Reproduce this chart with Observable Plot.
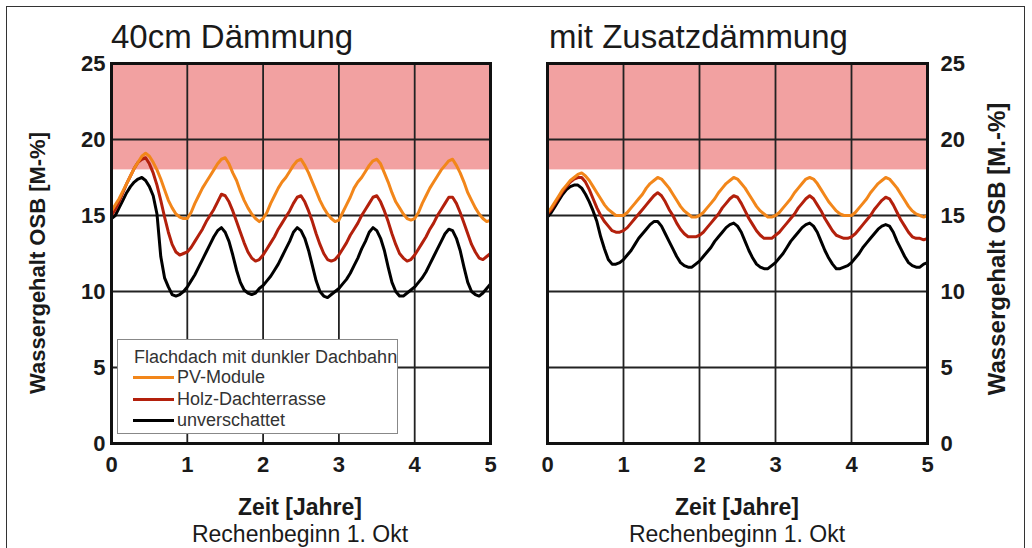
<!DOCTYPE html>
<html><head><meta charset="utf-8">
<script src="https://cdn.jsdelivr.net/npm/d3@7"></script>
<script src="https://cdn.jsdelivr.net/npm/@observablehq/plot@0.6"></script>
<style>
body{margin:0;background:#fff;font-family:"Liberation Sans",Arial,sans-serif;}
#page{position:relative;width:1032px;height:548px;overflow:hidden;background:#fff;}
#border{position:absolute;left:6px;top:6px;width:1019px;height:560px;border:1.5px solid #333;box-sizing:border-box;}
.abs{position:absolute;line-height:1;white-space:nowrap;color:#1a1a1a;}
.panel{position:absolute;}
.ttl{font-size:33px;}
.xt{font-size:23px;font-weight:bold;transform:translateX(-50%);}
.xs{font-size:23px;transform:translateX(-50%);}
.yt{font-size:22px;font-weight:bold;transform:translate(-50%,-50%) rotate(-90deg);}
.yt2{font-size:24px;font-weight:bold;transform:translate(-50%,-50%) rotate(-90deg);}
#legend{position:absolute;left:117px;top:339px;width:281px;height:95px;border:1.5px solid #888;background:#fff;box-sizing:border-box;}
.lg{position:absolute;font-size:18px;line-height:1;color:#333;white-space:nowrap;}
.sw{position:absolute;height:3px;width:41px;}
</style></head><body>
<div id="page"><div id="border"></div></div>
<script>
// ---- data ----
const panelTitles = ["40cm Dämmung", "mit Zusatzdämmung"];
const yTitles = ["Wassergehalt OSB [M-%]", "Wassergehalt OSB [M.-%]"];
const xTitle = "Zeit [Jahre]";
const xSubtitle = "Rechenbeginn 1. Okt";
const legendTitle = "Flachdach mit dunkler Dachbahn";
const seriesNames = ["PV-Module", "Holz-Dachterrasse", "unverschattet"];
const seriesColors = ["#f2861a", "#b3200c", "#000000"];
const xTicks = [0, 1, 2, 3, 4, 5];
const yTicks = [0, 5, 10, 15, 20, 25];
const criticalBand = [{from: 18, to: 25}];
const step = 0.05; // years between samples

// Left panel: 40cm Dämmung
const leftPV = [
15.3,15.7,16.1,16.6,17.1,17.6,18.1,18.5,18.9,19.1,18.9,18.5,18.0,17.4,16.7,16.0,15.5,15.1,14.9,14.8,
14.8,15.2,15.8,16.3,16.8,17.2,17.6,18.0,18.4,18.7,18.8,18.4,17.8,17.3,16.6,16.0,15.5,15.1,14.8,14.6,
14.8,15.2,15.8,16.3,16.8,17.2,17.5,17.9,18.3,18.6,18.7,18.3,17.8,17.2,16.6,16.0,15.5,15.1,14.8,14.6,
14.7,15.2,15.7,16.2,16.8,17.2,17.5,17.9,18.3,18.6,18.7,18.4,17.8,17.2,16.5,15.9,15.5,15.1,14.8,14.7,
14.8,15.2,15.8,16.3,16.8,17.2,17.6,18.0,18.3,18.6,18.7,18.3,17.8,17.2,16.5,16.0,15.5,15.1,14.8,14.6,
14.7];
const leftHolz = [
15.0,15.4,15.9,16.5,17.1,17.6,18.1,18.5,18.7,18.8,18.4,17.8,17.0,16.0,14.9,13.9,13.1,12.6,12.4,12.5,
12.6,12.9,13.3,13.7,14.1,14.6,15.0,15.4,15.9,16.4,16.3,15.9,15.3,14.6,13.9,13.2,12.6,12.2,12.0,12.1,
12.4,12.8,13.2,13.6,14.1,14.5,14.9,15.3,15.8,16.2,16.3,15.9,15.3,14.6,13.8,13.1,12.5,12.1,12.0,12.1,
12.4,12.8,13.2,13.7,14.1,14.5,15.0,15.4,15.8,16.2,16.3,15.9,15.3,14.6,13.8,13.1,12.5,12.2,12.0,12.1,
12.4,12.8,13.2,13.6,14.1,14.5,15.0,15.4,15.8,16.2,16.2,15.8,15.2,14.5,13.8,13.1,12.6,12.2,12.1,12.3,
12.5];
const leftOpen = [
14.8,15.0,15.5,16.0,16.5,16.9,17.2,17.4,17.5,17.3,16.9,16.3,15.1,12.3,10.9,10.3,9.8,9.7,9.8,10.0,
10.3,10.7,11.1,11.6,12.1,12.6,13.1,13.6,14.0,14.2,13.9,13.3,12.4,11.4,10.6,10.1,9.9,9.8,9.9,10.2,
10.4,10.7,11.0,11.4,11.8,12.3,12.8,13.3,13.9,14.2,14.0,13.5,12.7,11.7,10.7,10.0,9.7,9.6,9.8,10.0,
10.2,10.5,10.8,11.2,11.7,12.2,12.8,13.3,13.9,14.2,14.0,13.5,12.7,11.6,10.6,10.0,9.7,9.7,9.9,10.1,
10.3,10.6,10.9,11.3,11.8,12.3,12.8,13.3,13.8,14.1,14.0,13.5,12.7,11.6,10.6,10.0,9.8,9.7,9.9,10.2,
10.5];

// Right panel: mit Zusatzdämmung
const rightPV = [
15.2,15.5,15.9,16.3,16.7,17.0,17.3,17.5,17.7,17.8,17.6,17.3,16.9,16.5,16.1,15.7,15.4,15.2,15.0,15.0,
15.0,15.2,15.5,15.8,16.1,16.4,16.8,17.1,17.3,17.5,17.4,17.1,16.8,16.4,16.0,15.6,15.3,15.1,14.9,14.9,
15.0,15.2,15.5,15.8,16.1,16.5,16.8,17.1,17.3,17.5,17.4,17.1,16.8,16.4,16.0,15.6,15.3,15.1,14.9,14.9,
15.0,15.2,15.5,15.8,16.1,16.5,16.8,17.1,17.4,17.5,17.4,17.1,16.7,16.3,15.9,15.6,15.3,15.1,15.0,15.0,
15.0,15.2,15.5,15.8,16.1,16.5,16.8,17.1,17.3,17.5,17.4,17.1,16.8,16.4,16.0,15.6,15.3,15.1,15.0,14.9,
15.0];
const rightHolz = [
15.1,15.4,15.8,16.2,16.6,16.9,17.2,17.4,17.5,17.5,17.2,16.7,16.1,15.5,15.0,14.6,14.3,14.0,13.9,13.9,
14.0,14.2,14.5,14.8,15.1,15.4,15.7,16.0,16.3,16.5,16.3,15.9,15.4,15.0,14.5,14.1,13.8,13.6,13.6,13.6,
13.7,13.9,14.2,14.5,14.8,15.1,15.5,15.8,16.1,16.3,16.2,15.8,15.3,14.8,14.4,14.0,13.7,13.5,13.5,13.5,
13.7,13.9,14.2,14.5,14.8,15.1,15.5,15.8,16.1,16.3,16.1,15.7,15.3,14.8,14.4,14.0,13.7,13.6,13.5,13.5,
13.6,13.8,14.1,14.4,14.7,15.0,15.4,15.7,16.0,16.2,16.1,15.7,15.2,14.7,14.3,13.9,13.6,13.5,13.5,13.4,
13.5];
const rightOpen = [
14.9,15.2,15.6,16.0,16.4,16.7,16.9,17.0,17.0,16.8,16.4,15.9,15.3,14.6,13.6,12.8,12.1,11.8,11.8,11.9,
12.1,12.4,12.7,13.1,13.5,13.8,14.1,14.4,14.6,14.6,14.3,13.8,13.3,12.8,12.3,11.9,11.7,11.6,11.6,11.8,
12.0,12.3,12.6,12.9,13.3,13.6,13.9,14.2,14.4,14.5,14.3,13.9,13.3,12.7,12.2,11.8,11.6,11.5,11.5,11.7,
11.9,12.2,12.5,12.9,13.3,13.6,13.9,14.2,14.4,14.5,14.3,13.9,13.3,12.7,12.2,11.8,11.5,11.5,11.6,11.7,
11.9,12.2,12.5,12.9,13.2,13.5,13.8,14.1,14.3,14.4,14.3,13.9,13.3,12.8,12.3,11.9,11.7,11.6,11.6,11.8,
11.9];

// ---- drawing ----
const page = document.getElementById("page");
const FONT = '"Liberation Sans", Arial, sans-serif';

function addText(cls, text, left, top) {
  const d = document.createElement("div");
  d.className = "abs " + cls;
  d.textContent = text;
  d.style.left = left + "px";
  d.style.top = top + "px";
  page.appendChild(d);
  return d;
}

function rows(values, name) {
  return values.map((v, i) => ({t: +(i * step).toFixed(2), v, s: name}));
}

function panel(series, side, left, marginLeft, marginRight) {
  const data = [
    ...rows(series[2], seriesNames[2]),
    ...rows(series[1], seriesNames[1]),
    ...rows(series[0], seriesNames[0])
  ];
  const chart = Plot.plot({
    width: 516, height: 440,
    marginLeft, marginRight, marginTop: 23, marginBottom: 37,
    style: {fontFamily: FONT, fontSize: "22px", fontWeight: "bold", color: "#1a1a1a", background: "transparent", overflow: "visible"},
    x: {domain: [0, 5], label: null},
    y: {domain: [0, 25], label: null},
    color: {domain: seriesNames, range: seriesColors},
    marks: [
      Plot.rect(criticalBand, {x1: () => xTicks[0], x2: () => xTicks[xTicks.length - 1], y1: "from", y2: "to", fill: "#f2a1a1"}),
      Plot.gridX(xTicks, {stroke: "#222", strokeOpacity: 1, strokeWidth: 1.8}),
      Plot.gridY(yTicks, {stroke: "#222", strokeOpacity: 1, strokeWidth: 1.8}),
      Plot.line(data, {x: "t", y: "v", z: "s", stroke: "s", strokeWidth: 3, strokeLinejoin: "round"}),
      Plot.frame({stroke: "#111", strokeWidth: 3}),
      Plot.axisX(xTicks, {tickSize: 0, tickPadding: 13, tickFormat: d => d, label: null}),
      Plot.axisY(yTicks, {anchor: side, tickSize: 0, tickPadding: side === "left" ? 6 : 13, tickFormat: d => d, label: null})
    ]
  });
  const wrap = document.createElement("div");
  wrap.className = "panel";
  wrap.style.left = left + "px";
  wrap.style.top = "40px";
  wrap.appendChild(chart);
  page.appendChild(wrap);
}

panel([leftPV, leftHolz, leftOpen], "left", 0, 111, 26);
panel([rightPV, rightHolz, rightOpen], "right", 516, 31, 105);

// titles
addText("ttl", panelTitles[0], 111, 20);
addText("ttl", panelTitles[1], 549, 20);
// x titles
addText("xt", xTitle, 300, 496);
addText("xt", xTitle, 737, 496);
addText("xs", xSubtitle, 300, 523);
addText("xs", xSubtitle, 737, 523);
// y titles
addText("yt", yTitles[0], 38, 263);
addText("yt2", yTitles[1], 997, 249);

// legend
const lg = document.createElement("div");
lg.id = "legend";
page.appendChild(lg);
function lgText(text, x, y) {
  const d = document.createElement("div");
  d.className = "lg"; d.textContent = text;
  d.style.left = (x - 117) + "px"; d.style.top = (y - 339) + "px";
  lg.appendChild(d);
}
lgText(legendTitle, 133, 347);
const entryY = [376, 398, 419];
seriesNames.forEach((n, i) => {
  const sw = document.createElement("div");
  sw.className = "sw";
  sw.style.background = seriesColors[i];
  sw.style.left = (132 - 117) + "px";
  sw.style.top = (entryY[i] - 1.5 - 339) + "px";
  lg.appendChild(sw);
  lgText(n, 176, entryY[i] - 9);
});
</script>
</body></html>
